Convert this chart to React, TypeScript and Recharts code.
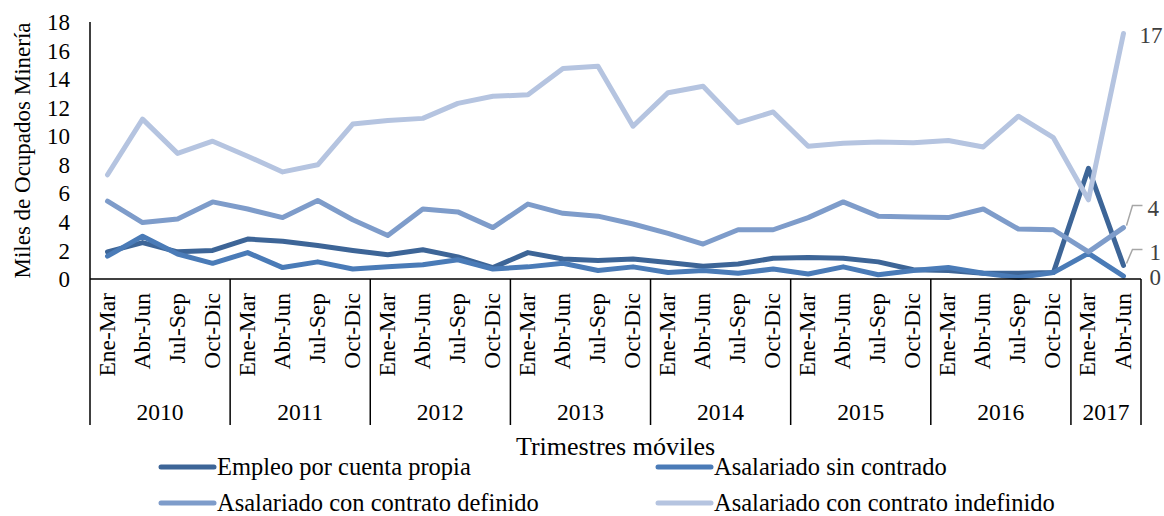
import React from 'react';
import { LineChart, Line, XAxis, YAxis, Legend, LabelList } from 'recharts';

const FONT = "'Liberation Serif', 'Times New Roman', serif";

const quarterLabels = [
  'Ene-Mar', 'Abr-Jun', 'Jul-Sep', 'Oct-Dic',
  'Ene-Mar', 'Abr-Jun', 'Jul-Sep', 'Oct-Dic',
  'Ene-Mar', 'Abr-Jun', 'Jul-Sep', 'Oct-Dic',
  'Ene-Mar', 'Abr-Jun', 'Jul-Sep', 'Oct-Dic',
  'Ene-Mar', 'Abr-Jun', 'Jul-Sep', 'Oct-Dic',
  'Ene-Mar', 'Abr-Jun', 'Jul-Sep', 'Oct-Dic',
  'Ene-Mar', 'Abr-Jun', 'Jul-Sep', 'Oct-Dic',
  'Ene-Mar', 'Abr-Jun',
];
const yearLabels = [
  '2010', '2010', '2010', '2010',
  '2011', '2011', '2011', '2011',
  '2012', '2012', '2012', '2012',
  '2013', '2013', '2013', '2013',
  '2014', '2014', '2014', '2014',
  '2015', '2015', '2015', '2015',
  '2016', '2016', '2016', '2016',
  '2017', '2017',
];

const cuentaPropia = [1.9, 2.55, 1.9, 2.0, 2.8, 2.65, 2.35, 2.0, 1.7, 2.05, 1.55, 0.8, 1.85, 1.4, 1.3, 1.4, 1.15, 0.9, 1.05, 1.45, 1.5, 1.45, 1.2, 0.65, 0.6, 0.4, 0.4, 0.45, 7.75, 0.95];
const sinContrato = [1.6, 3.0, 1.75, 1.1, 1.85, 0.8, 1.2, 0.7, 0.85, 1.0, 1.35, 0.7, 0.85, 1.1, 0.6, 0.85, 0.45, 0.6, 0.4, 0.7, 0.35, 0.85, 0.3, 0.6, 0.8, 0.4, 0.1, 0.45, 1.8, 0.2];
const contratoDefinido = [5.45, 3.95, 4.2, 5.4, 4.9, 4.3, 5.5, 4.15, 3.05, 4.9, 4.7, 3.6, 5.25, 4.6, 4.4, 3.85, 3.2, 2.45, 3.45, 3.45, 4.3, 5.4, 4.4, 4.35, 4.3, 4.9, 3.5, 3.45, 1.9, 3.6];
const contratoIndefinido = [7.3, 11.2, 8.8, 9.65, 8.6, 7.5, 8.0, 10.85, 11.1, 11.25, 12.3, 12.8, 12.9, 14.75, 14.9, 10.7, 13.05, 13.5, 10.95, 11.7, 9.3, 9.5, 9.6, 9.55, 9.7, 9.25, 11.4, 9.9, 5.55, 17.2];

const yTicks = [0, 2, 4, 6, 8, 10, 12, 14, 16, 18];

const seriesNames = [
  'Empleo por cuenta propia',
  'Asalariado sin contrado',
  'Asalariado con contrato definido',
  'Asalariado con contrato indefinido',
];
const seriesColors = ['#3d6597', '#4a7bb7', '#7e9cca', '#b5c4e0'];

const data = quarterLabels.map((q, i) => ({
  key: `${yearLabels[i]} ${q}`,
  quarter: q,
  year: yearLabels[i],
  cuenta: cuentaPropia[i],
  sin: sinContrato[i],
  definido: contratoDefinido[i],
  indefinido: contratoIndefinido[i],
}));

const N = data.length;
const CHART_W = 1164;
const CHART_H = 516;
const PLOT_LEFT = 90;
const PLOT_RIGHT = 1141;
const BAND = (PLOT_RIGHT - PLOT_LEFT) / N;
const XAXIS_H = 146;

function CategoryTick(props: any) {
  const { x, y, payload } = props;
  const i = payload.index;
  const row = data[i];
  if (!row) return null;
  const first = i === 0 || yearLabels[i - 1] !== yearLabels[i];
  const last = i === N - 1;
  const count = yearLabels.filter((yy) => yy === row.year).length;
  return (
    <g>
      <text
        x={x}
        y={y + 14}
        dy="0.3em"
        transform={`rotate(-90, ${x}, ${y + 14})`}
        textAnchor="end"
        fontFamily={FONT}
        fontSize={23.5}
        fill="#000"
      >
        {row.quarter}
      </text>
      {first && (
        <line x1={x - BAND / 2} x2={x - BAND / 2} y1={y} y2={y + XAXIS_H} stroke="#000" strokeWidth={1.5} />
      )}
      {first && (
        <text
          x={x - BAND / 2 + (count * BAND) / 2}
          y={y + 141}
          textAnchor="middle"
          fontFamily={FONT}
          fontSize={23.5}
          fill="#000"
        >
          {row.year}
        </text>
      )}
      {last && (
        <line x1={x + BAND / 2} x2={x + BAND / 2} y1={y} y2={y + XAXIS_H} stroke="#000" strokeWidth={1.5} />
      )}
    </g>
  );
}

function YTitle(props: any) {
  const vb = props.viewBox;
  const cx = vb.x + 22;
  const cy = vb.y + vb.height / 2;
  return (
    <text
      x={cx}
      y={cy}
      dy="0.35em"
      transform={`rotate(-90, ${cx}, ${cy})`}
      textAnchor="middle"
      fontFamily={FONT}
      fontSize={23}
      fill="#000"
    >
      Miles de Ocupados Minería
    </text>
  );
}

function XTitle(props: any) {
  const vb = props.viewBox;
  return (
    <text x={vb.x + vb.width / 2} y={vb.y + 176} textAnchor="middle" fontFamily={FONT} fontSize={26} fill="#000">
      Trimestres móviles
    </text>
  );
}

type EndCfg = { dx: number; dy: number; leader: boolean; ly: number };
const endCfgs: EndCfg[] = [
  { dx: 26, dy: -13, leader: true, ly: -16 },
  { dx: 26, dy: 1, leader: false, ly: 0 },
  { dx: 24, dy: -20, leader: true, ly: -22 },
  { dx: 16, dy: 2, leader: false, ly: 0 },
];

const makeEndLabel = (cfg: EndCfg) => (props: any) => {
  const { x, y, value, index } = props;
  if (index !== N - 1 || x == null || y == null) return null;
  return (
    <g>
      {cfg.leader && (
        <polyline
          points={`${x + 3},${y - 2} ${x + 9},${y + cfg.ly} ${x + 19},${y + cfg.ly}`}
          fill="none"
          stroke="#a6a6a6"
          strokeWidth={1.5}
        />
      )}
      <text x={x + cfg.dx} y={y + cfg.dy} dy="0.35em" textAnchor="start" fontFamily={FONT} fontSize={23} fill="#404040">
        {Math.round(Number(value))}
      </text>
    </g>
  );
};

function LegendContent(props: any) {
  const payload: any[] = props.payload || [];
  const ordered = seriesNames.map((name, i) => {
    const found = payload.find((p) => p.value === name);
    return { value: name, color: found ? found.color : seriesColors[i] };
  });
  const colX = [161, 658];
  const rowY = [17, 53];
  return (
    <svg width={CHART_W} height={70}>
      {ordered.map((p, i) => {
        const lx = colX[i % 2];
        const ly = rowY[Math.floor(i / 2)];
        return (
          <g key={i}>
            <line x1={lx} x2={lx + 53} y1={ly} y2={ly} stroke={p.color} strokeWidth={5} strokeLinecap="round" />
            <text x={lx + 56} y={ly + 8} fontFamily={FONT} fontSize={24.5} fill="#000">
              {p.value}
            </text>
          </g>
        );
      })}
    </svg>
  );
}

const keys = ['cuenta', 'sin', 'definido', 'indefinido'];

export default function App() {
  return (
    <div style={{ position: 'absolute', left: 0, top: 0, background: '#fff' }}>
      <LineChart
        width={CHART_W}
        height={CHART_H}
        data={data}
        margin={{ top: 22, right: CHART_W - PLOT_RIGHT, left: 0, bottom: CHART_H - 279 - XAXIS_H }}
      >
        <XAxis
          dataKey="key"
          interval={0}
          height={XAXIS_H}
          padding={{ left: BAND / 2, right: BAND / 2 }}
          tickLine={false}
          tickSize={0}
          tickMargin={0}
          axisLine={{ stroke: '#000', strokeWidth: 1.5 }}
          tick={<CategoryTick />}
          label={{ content: XTitle }}
        />
        <YAxis
          domain={[0, 18]}
          ticks={yTicks}
          interval={0}
          width={PLOT_LEFT}
          tickLine={false}
          tickSize={0}
          tickMargin={20}
          axisLine={{ stroke: '#000', strokeWidth: 1.5 }}
          tick={{ fill: '#000', fontSize: 23, fontFamily: FONT }}
          label={{ content: YTitle }}
        />
        <Legend
          layout="horizontal"
          verticalAlign="middle"
          align="center"
          wrapperStyle={{ top: 450, left: 0, width: CHART_W, height: 66 }}
          content={<LegendContent />}
        />
        {keys.map((k, si) => (
          <Line
            key={k}
            type="linear"
            dataKey={k}
            name={seriesNames[si]}
            stroke={seriesColors[si]}
            strokeWidth={5}
            strokeLinejoin="round"
            strokeLinecap="round"
            dot={false}
            activeDot={false}
            isAnimationActive={false}
          >
            <LabelList dataKey={k} content={makeEndLabel(endCfgs[si])} />
          </Line>
        ))}
      </LineChart>
    </div>
  );
}
